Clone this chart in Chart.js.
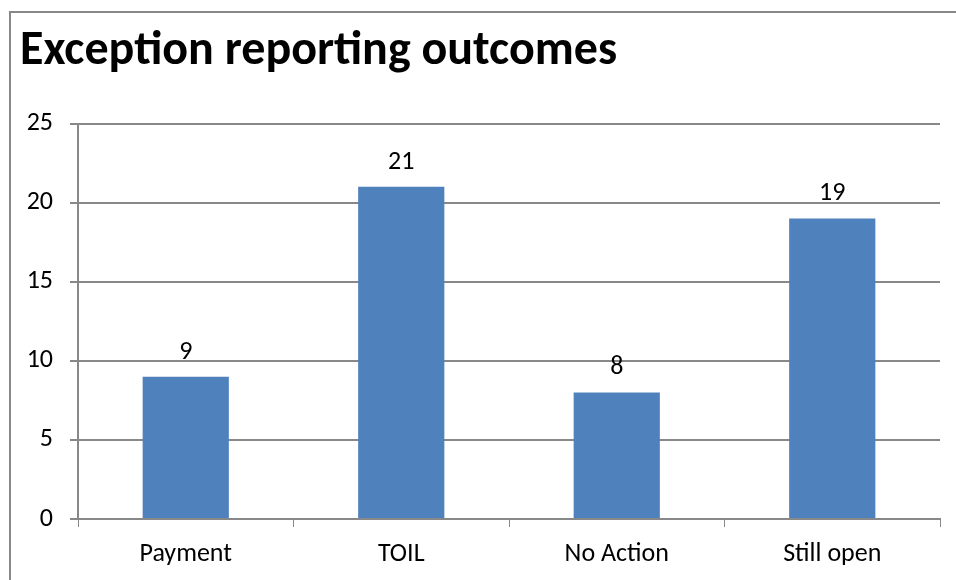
<!DOCTYPE html>
<html>
<head>
<meta charset="utf-8">
<script src="https://cdn.jsdelivr.net/npm/chart.js@4"></script>
<style>
    body { margin: 0; background: #fff; overflow: hidden; }
    #frame { position: absolute; left: 9px; top: 11px; width: 1000px; height: 650px; border: 2px solid #888; }
    #wrap { position: absolute; left: 0; top: 0; width: 956px; height: 580px; }
</style>
</head>
<body>
<div id="frame"></div>
<div id="wrap"><canvas id="outcomeChart"></canvas></div>
<script>
const categories = ["Payment", "TOIL", "No Action", "Still open"];
const outcomeCounts = [9, 21, 8, 19];
const yTicks = [0, 5, 10, 15, 20, 25];

const FONT = "Carlito, Lato, sans-serif";

// write the value above each bar
const barLabels = {
    id: "barLabels",
    afterDatasetsDraw(chart) {
        const c = chart.ctx;
        const meta = chart.getDatasetMeta(0);
        c.save();
        c.font = "26px " + FONT;
        c.fillStyle = "#000";
        c.textAlign = "center";
        c.textBaseline = "alphabetic";
        meta.data.forEach((bar, i) => {
            c.fillText(outcomeCounts[i], bar.x, bar.y - 18);
        });
        c.restore();
    },
};

const ctx = document.getElementById("outcomeChart").getContext("2d");

const chart = new Chart(ctx, {
    type: "bar",
    data: {
        labels: categories,
        datasets: [
            {
                data: outcomeCounts,
                backgroundColor: "#4F81BD",
                borderWidth: 0,
                barPercentage: 0.4,
                categoryPercentage: 1,
            },
        ],
    },
    options: {
        responsive: true,
        maintainAspectRatio: false,
        animation: false,
        layout: { padding: { left: 20, right: 16, top: 0, bottom: 0 } },
        plugins: {
            legend: { display: false },
            tooltip: { enabled: false },
            title: {
                display: true,
                text: "Exception reporting outcomes",
                align: "start",
                color: "#000",
                font: { family: FONT, size: 48, weight: "bold", lineHeight: 1.2 },
                padding: { top: 23, bottom: 43 },
            },
        },
        scales: {
            x: {
                afterFit(scale) { scale.height = 61; },
                grid: { drawOnChartArea: false, drawTicks: true, tickLength: 8, color: "#888", offset: true },
                border: { display: true, color: "#888", width: 2 },
                ticks: { color: "#000", font: { family: FONT, size: 26 }, padding: 12 },
            },
            y: {
                min: 0,
                max: 25,
                afterFit(scale) { scale.width = 58; },
                afterBuildTicks(scale) { scale.ticks = yTicks.map(v => ({ value: v })); },
                grid: { color: "#888", lineWidth: 2, tickLength: 8 },
                border: { display: true, color: "#888", width: 2 },
                ticks: { color: "#000", font: { family: FONT, size: 26 }, padding: 17 },
            },
        },
    },
    plugins: [barLabels],
});
</script>
</body>
</html>
